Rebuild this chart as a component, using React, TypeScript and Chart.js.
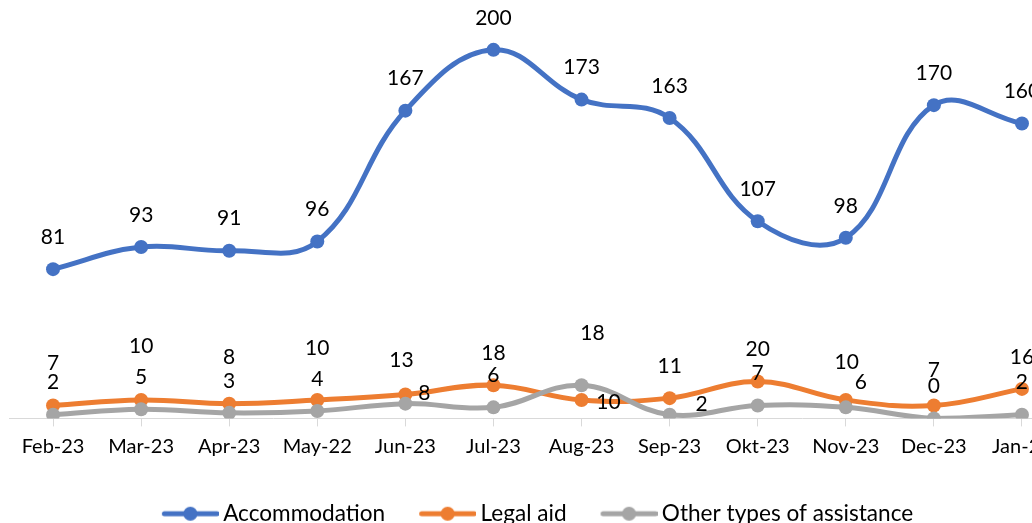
import React, { useEffect, useRef } from "react";
import { Chart, registerables } from "chart.js";

Chart.register(...registerables);

const categories = ["Feb-23", "Mar-23", "Apr-23", "May-22", "Jun-23", "Jul-23", "Aug-23", "Sep-23", "Okt-23", "Nov-23", "Dec-23", "Jan-24"];
const accommodation = [81, 93, 91, 96, 167, 200, 173, 163, 107, 98, 170, 160];
const legalAid = [7, 10, 8, 10, 13, 18, 10, 11, 20, 10, 7, 16];
const otherAssistance = [2, 5, 3, 4, 8, 6, 18, 2, 7, 6, 0, 2];
const seriesNames = ["Accommodation", "Legal aid", "Other types of assistance"];
const seriesColors = ["#4472C4", "#ED7D31", "#A5A5A5"];

const FONT = "Lato";
const TICK_SIZE = 20;
const LABEL_SIZE = 21;
const LEGEND_SIZE = 22.6;

// label placement nudges (pixels relative to point), style only
const defaultNudge: [number, number] = [0, -32];
const labelNudges: Record<number, Record<number, [number, number]>> = {
  1: { 0: [0, -42], 1: [0, -54], 2: [0, -46], 3: [0, -52], 4: [-4, -34], 6: [27, 2], 9: [1, -38], 10: [0, -35] },
  2: { 4: [19, -10], 6: [11, -52], 7: [32, -10], 9: [15, -25] },
};

const valueLabels = {
  id: "valueLabels",
  afterDatasetsDraw(chart: any) {
    const ctx = chart.ctx;
    ctx.save();
    ctx.font = `${LABEL_SIZE}px ${FONT}`;
    ctx.fillStyle = "#000";
    ctx.textAlign = "center";
    ctx.textBaseline = "middle";
    chart.data.datasets.forEach((ds: any, di: number) => {
      const meta = chart.getDatasetMeta(di);
      meta.data.forEach((pt: any, i: number) => {
        const nudge = (labelNudges[di] && labelNudges[di][i]) || defaultNudge;
        ctx.fillText(String(ds.data[i]), pt.x + nudge[0], pt.y + nudge[1]);
      });
    });
    ctx.restore();
  },
};

function makeLegendIcon(color: string): HTMLCanvasElement {
  const c = document.createElement("canvas");
  c.width = 64;
  c.height = 16;
  const g = c.getContext("2d")!;
  g.strokeStyle = color;
  g.lineWidth = 5;
  g.lineCap = "round";
  g.beginPath();
  g.moveTo(9.5, 8);
  g.lineTo(62, 8);
  g.stroke();
  g.fillStyle = color;
  g.beginPath();
  g.arc(35.5, 8, 7, 0, Math.PI * 2);
  g.fill();
  return c;
}

export default function App() {
  const ref = useRef<HTMLCanvasElement | null>(null);

  useEffect(() => {
    if (!ref.current) return;
    const icons = seriesColors.map(makeLegendIcon);
    const seriesValues = [accommodation, legalAid, otherAssistance];
    const chart = new Chart(ref.current, {
      type: "line",
      data: {
        labels: categories,
        datasets: seriesValues.map((vals, i) => ({
          label: seriesNames[i],
          data: vals,
          borderColor: seriesColors[i],
          backgroundColor: seriesColors[i],
          pointBackgroundColor: seriesColors[i],
          pointBorderColor: seriesColors[i],
          borderWidth: 5,
          pointRadius: 7,
          pointBorderWidth: 0,
          tension: 0.4,
          fill: false,
          order: 3 - i,
        })),
      },
      options: {
        responsive: false,
        animation: false,
        devicePixelRatio: 1,
        layout: { padding: { top: 13, left: 9, right: 14, bottom: 0 } },
        plugins: {
          tooltip: { enabled: false },
          legend: {
            display: true,
            position: "bottom",
            labels: {
              usePointStyle: true,
              pointStyleWidth: 50,
              padding: 34,
              color: "#000",
              font: { family: FONT, size: LEGEND_SIZE },
              generateLabels: (ch: any) =>
                ch.data.datasets.map((ds: any, i: number) => ({
                  text: ds.label,
                  pointStyle: icons[i],
                  fillStyle: seriesColors[i],
                  strokeStyle: seriesColors[i],
                  lineWidth: 0,
                  hidden: false,
                  datasetIndex: i,
                  fontColor: "#000",
                })),
            },
          },
        },
        scales: {
          x: {
            offset: true,
            grid: { display: true, drawOnChartArea: false, drawTicks: true, tickLength: 8, color: "#d9d9d9", lineWidth: 1 },
            border: { display: true, color: "#d9d9d9", width: 1 },
            ticks: { color: "#000", font: { family: FONT, size: TICK_SIZE }, padding: 8, maxRotation: 0, autoSkip: false },
            afterFit: (s: any) => {
              s.height = 50;
            },
          },
          y: { display: false, min: 0, max: 220 },
        },
      },
      plugins: [valueLabels],
    } as any);
    return () => chart.destroy();
  }, []);

  return (
    <div style={{ position: "absolute", left: 0, top: 0, width: 1032, height: 523, overflow: "hidden", background: "#fff" }}>
      <canvas ref={ref} width={1080} height={535} style={{ display: "block" }} />
    </div>
  );
}
